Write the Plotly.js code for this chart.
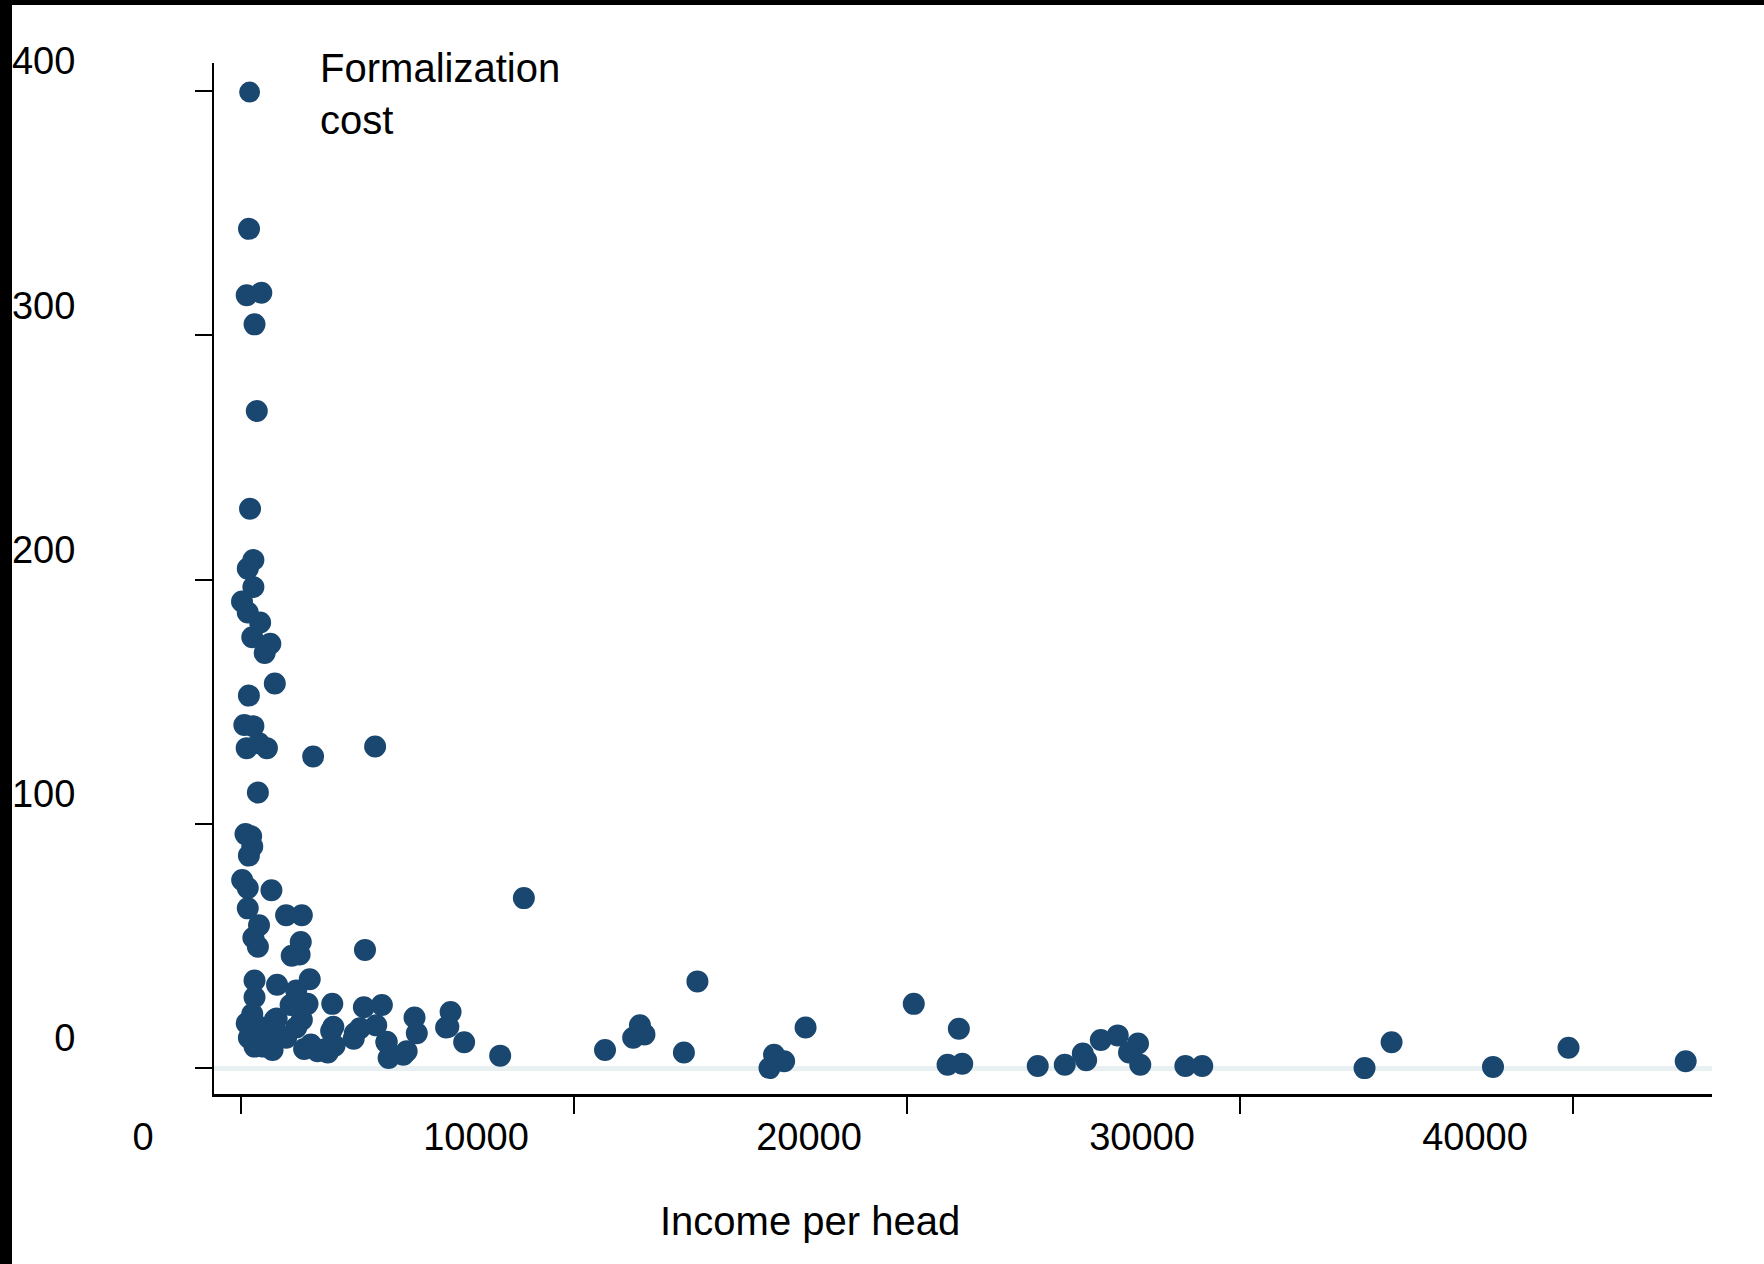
<!DOCTYPE html>
<html>
<head>
<meta charset="utf-8">
<script src="https://cdn.plot.ly/plotly-3.0.1.min.js"></script>
<style>
  html, body { margin: 0; padding: 0; background: #000; width: 1764px; height: 1264px; overflow: hidden; }
  #chart { position: absolute; left: 12px; top: 5px; width: 1752px; height: 1259px; background: #fff; }
</style>
</head>
<body>
<div id="chart"></div>
<script>
// Income per head (x) and formalization cost (y)
const income = [
  240, 170, 609, 406, 474, 271, 372, 203, 372, 30, 203, 575, 338, 880, 710, 1015, 237, 100, 372, 170,
  541, 778, 2166, 4027, 507, 135, 305, 338, 237, 35, 203, 914, 203, 1354, 1827, 8494, 541, 372, 507, 1794,
  1523, 1760, 3723, 1083, 406, 2064, 1658, 13706, 406, 1489, 1997, 2741, 1794, 3689, 4230, 20203, 338, 1827, 5211, 6294,
  1015, 170, 609, 1658, 4061, 11980, 16954, 21557, 880, 2707, 3418, 5279, 6159, 11777, 12115, 237, 1354, 26328, 25820, 26937,
  34552, 39865, 6701, 4365, 3384, 677, 406, 2098, 2538, 2809, 1895, 948, 4975, 10931, 2301, 2606, 13300, 26667, 4873, 7783,
  25279, 16007, 4433, 25380, 16311, 21658, 21218, 43384, 23926, 24738, 27005, 28359, 28866, 33740, 37597, 15871,
  1171, 2772, 3574, 6226, 1072, 4375
];
const cost = [
  343.6, 316.4, 317.4, 304.5, 269, 229, 208, 204.5, 197, 191, 186.5, 182.4, 176.4, 173.7, 170, 157.5, 152.5, 140.5, 140, 131,
  133, 131, 127.6, 131.7, 112.8, 95.8, 94.9, 90.7, 87, 77, 73.7, 72.8, 65.4, 62.6, 62.6, 69.6, 58.5, 53.4, 49.7, 51.6,
  46, 46.5, 48.4, 34.1, 35.9, 36.4, 31.8, 35.5, 29, 25.8, 26.3, 26.3, 24.4, 24.9, 25.8, 26.3, 22.1, 19.8, 20.7, 23,
  19.8, 18.4, 16.6, 16.6, 17.5, 17.5, 16.6, 16.1, 13.4, 15.2, 14.3, 14.3, 16.6, 12.4, 13.8, 12.4, 12.4, 13.4, 11.5, 10.1,
  10.6, 8.3, 10.6, 10.6, 12, 8.8, 8.8, 9.7, 7.8, 9.2, 7.8, 7.4, 6.9, 7.4, 6.9, 6.4, 6.4, 6.4, 5.5, 5.1,
  6, 5.5, 4.1, 3.2, 2.8, 1.8, 1.4, 2.8, 0.9, 1.4, 1.4, 0.9, 0.9, 0, 0.5, 0,
  13.5, 16.9, 16.3, 16.9, 20.3, 10.8
];
const seriesName = "Formalization<br>cost";
const xTickVals = [0, 10000, 20000, 30000, 40000];
const xTickText = ["0", "10000", "20000", "30000", "40000"];
const yTickVals = [0, 100, 200, 300, 400];
const yTickText = ["0", "100", "200", "300", "400"];
const xTitle = "Income per head";

const navy = "#1a476f";
const font = "Liberation Sans, Arial, Helvetica, sans-serif";

const trace = {
  type: "scatter",
  mode: "markers",
  x: income,
  y: cost,
  name: seriesName,
  marker: { color: navy, size: 17, line: { color: navy, width: 5 } },
  hoverinfo: "x+y"
};

const layout = {
  width: 1752,
  height: 1259,
  paper_bgcolor: "#ffffff",
  plot_bgcolor: "#ffffff",
  margin: { l: 202, r: 52, t: 58, b: 170 },
  font: { family: font, color: "#000", size: 38 },
  showlegend: true,
  legend: {
    x: -0.0233, xanchor: "left",
    y: 1.0285, yanchor: "top",
    bgcolor: "rgba(0,0,0,0)",
    font: { family: font, size: 40, color: "#000" },
    itemwidth: 131,
    valign: "middle"
  },
  xaxis: {
    range: [-811, 44174],
    tickvals: xTickVals,
    ticktext: xTickText,
    showgrid: false,
    zeroline: false,
    showline: true,
    linecolor: "#000",
    linewidth: 3,
    ticks: "outside",
    ticklen: 17,
    tickwidth: 2,
    tickcolor: "#000",
    tickfont: { family: font, size: 38, color: "#000" },
    ticklabelshift: -98,
    ticklabelstandoff: -10
  },
  yaxis: {
    range: [-10.6, 411.5],
    tickvals: yTickVals,
    ticktext: yTickText,
    showgrid: false,
    zeroline: true,
    zerolinecolor: "#e8f0f2",
    zerolinewidth: 5,
    showline: true,
    linecolor: "#000",
    linewidth: 2,
    ticks: "outside",
    ticklen: 17,
    tickwidth: 2,
    tickcolor: "#000",
    tickfont: { family: font, size: 38, color: "#000" },
    ticklabelshift: -30,
    ticklabelstandoff: 112
  },
  annotations: [{
    text: xTitle,
    xref: "paper", yref: "paper",
    x: 0.398, xanchor: "center",
    y: -0.123, yanchor: "middle",
    showarrow: false,
    font: { family: font, size: 40, color: "#000" }
  }]
};

Plotly.newPlot("chart", [trace], layout, { displayModeBar: false, staticPlot: true });
</script>
</body>
</html>
